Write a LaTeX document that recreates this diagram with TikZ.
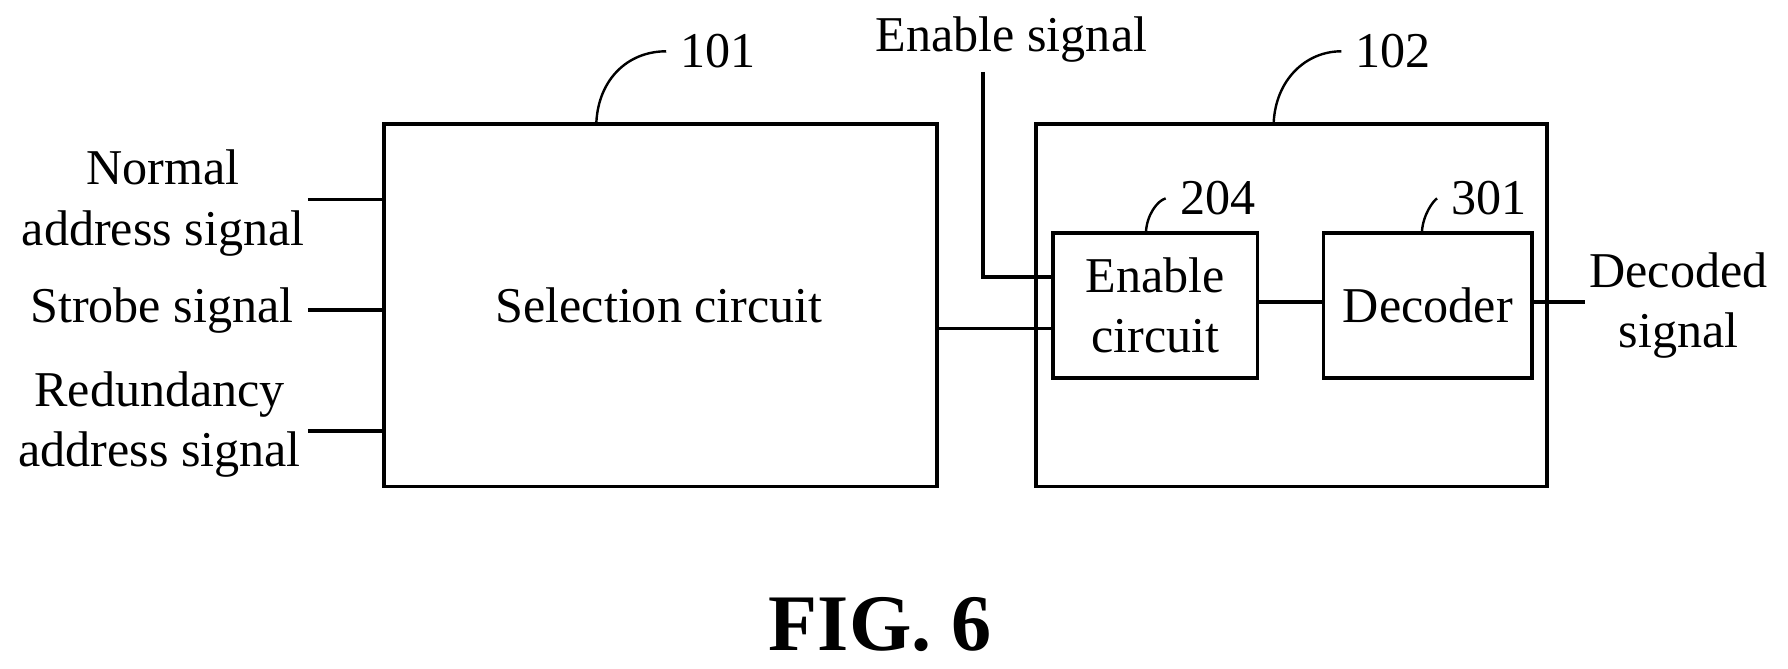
\documentclass[tikz,border=0pt]{standalone}
\usepackage{fontspec}
\setmainfont{Liberation Serif}
\usepackage{tikz}
\usetikzlibrary{arrows.meta}

\begin{document}
\begin{tikzpicture}[x=0.01cm,y=-0.01cm,line width=0.9pt,
		every node/.style={font=\fontsize{12.5}{15}\selectfont,align=center}]
	\useasboundingbox (0,0) rectangle (1568,586);
	\begin{scope}[every node/.style={draw,rectangle,anchor=north west,inner sep=0pt,
				font=\fontsize{12.5}{15}\selectfont,align=center}]
		\node[minimum width=4.85cm,minimum height=3.18cm] (sel) at (335,107) {};
		\node[minimum width=4.48cm,minimum height=3.18cm] (blk) at (907,107) {};
		\node[minimum width=1.79cm,minimum height=1.27cm] (en) at (922,203) {Enable\\circuit};
		\node[minimum width=1.83cm,minimum height=1.27cm] (dec) at (1159,203) {Decoder};
	\end{scope}
	\node at (578,268) {Selection circuit};
	% inputs
	\node (nrm) at (143,178) {Normal\\address signal};
	\node (stb) at (142,272) {Strobe signal};
	\node (red) at (140,372) {Redundancy\\address signal};
	\coordinate (n1) at (270,175);
	\coordinate (s1) at (270,272);
	\coordinate (r1) at (270,378);
	\draw (n1) -- (n1 -| sel.west);
	\draw (s1) -- (s1 -| sel.west);
	\draw (r1) -- (r1 -| sel.west);
	% enable
	\node (ens) at (887,35) {Enable signal};
	\coordinate (e0) at (862,63);
	\coordinate (e1) at (862,243);
	\draw (e0) -- (e1) -- (e1 -| en.west);
	\coordinate (o1) at (820,288);
	\draw (o1) -- (o1 -| en.west);
	\draw (en.east |- 0,265) -- (dec.west |- 0,265);
	\node (dcd) at (1472,268) {Decoded\\signal};
	\coordinate (d1) at (1390,265);
	\draw (dec.east |- d1) -- (d1);
	% reference numbers
	\begin{scope}[line width=0.6pt]
		\node (t101) at (630,45) {101};
		\node (t102) at (1222,45) {102};
		\node (t204) at (1068,174) {204};
		\node (t301) at (1306,174) {301};
		\draw (523,107) .. controls (525,70) and (550,45) .. (t101.west);
		\draw (1117,107) .. controls (1119,70) and (1145,45) .. (t102.west);
		\draw (1005,203) .. controls (1006,188) and (1015,176) .. (t204.west);
		\draw (1247,203) .. controls (1248,188) and (1257,176) .. (t301.west);
	\end{scope}
	\node[font=\fontsize{20}{24}\selectfont\bfseries] (fig) at (772,548) {FIG. 6};
\end{tikzpicture}
\end{document}
